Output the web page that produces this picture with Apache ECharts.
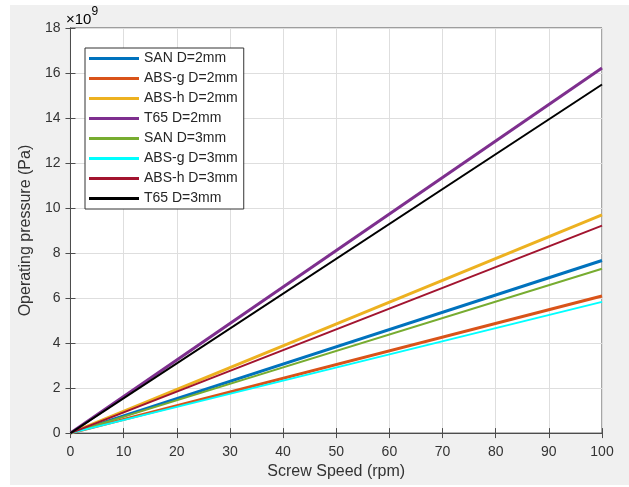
<!DOCTYPE html>
<html>
<head>
<meta charset="utf-8">
<script src="https://cdn.jsdelivr.net/npm/echarts@6/dist/echarts.min.js"></script>
<style>
  html, body { margin: 0; padding: 0; background: #fff; }
  #chart { position: absolute; left: 10px; top: 5px; width: 619px; height: 480px; background: #f0f0f0; }
</style>
</head>
<body>
<div id="chart"></div>
<script>
// screw speed (rpm), start and end of each line
var speeds = [0, 100];
var names = ['SAN D=2mm', 'ABS-g D=2mm', 'ABS-h D=2mm', 'T65 D=2mm',
             'SAN D=3mm', 'ABS-g D=3mm', 'ABS-h D=3mm', 'T65 D=3mm'];
// operating pressure at 0 and 100 rpm, in units of 1e9 Pa
var san2 = [0, 7.67];
var absg2 = [0, 6.09];
var absh2 = [0, 9.70];
var t652 = [0, 16.22];
var san3 = [0, 7.30];
var absg3 = [0, 5.83];
var absh3 = [0, 9.22];
var t653 = [0, 15.49];
var xTicks = [0, 10, 20, 30, 40, 50, 60, 70, 80, 90, 100];
var yTicks = [0, 2, 4, 6, 8, 10, 12, 14, 16, 18];

var seriesValues = [san2, absg2, absh2, t652, san3, absg3, absh3, t653];
var colors = ['#0072BD', '#D95319', '#EDB120', '#7E2F8E', '#77AC30', '#00FFFF', '#A2142F', '#000000'];
var widths = [3, 3, 3, 3, 2, 2, 2, 2];

var chart = echarts.init(document.getElementById('chart'));

var font = 'Liberation Sans, Arial, sans-serif';
var axisColor = '#4d4d4d';

var series = names.map(function (n, i) {
  return {
    name: n,
    type: 'line',
    symbol: 'none',
    data: speeds.map(function (s, k) { return [s, seriesValues[i][k]]; }),
    lineStyle: { color: colors[i], width: widths[i] },
    itemStyle: { color: colors[i] }
  };
});

var option = {
  animation: false,
  grid: {
    left: 55, top: 23, right: 27, bottom: 50,
    show: true, backgroundColor: '#fff', borderColor: axisColor, borderWidth: 1
  },
  legend: {
    orient: 'vertical',
    left: 75, top: 43,
    data: names,
    icon: 'rect',
    itemWidth: 50, itemHeight: 3, itemGap: 5,
    padding: [3, 6, 3, 4],
    backgroundColor: '#fff',
    borderColor: '#333', borderWidth: 1,
    textStyle: { fontFamily: font, fontSize: 14, color: '#262626', lineHeight: 15 }
  },
  graphic: [{
    type: 'text', left: 56, top: 1,
    style: {
      text: '{a|×10}{b|9}',
      rich: {
        a: { fontFamily: font, fontSize: 15, color: '#333', padding: [6, 0, 0, 0] },
        b: { fontFamily: font, fontSize: 12, color: '#333', verticalAlign: 'top' }
      }
    }
  }],
  xAxis: [{
    type: 'value', min: 0, max: 100, interval: 10,
    name: 'Screw Speed (rpm)', nameLocation: 'middle', nameGap: 27,
    nameTextStyle: { fontFamily: font, fontSize: 16, color: '#333' },
    axisLine: { lineStyle: { color: axisColor } },
    axisTick: { inside: true, length: 5, lineStyle: { color: axisColor } },
    axisLabel: { fontFamily: font, fontSize: 14, color: '#333', margin: 12,
      customValues: xTicks },
    splitLine: { show: true, lineStyle: { color: '#dedede' } }
  }, {
    type: 'value', min: 0, max: 100, interval: 10, position: 'top',
    axisLine: { lineStyle: { color: axisColor } },
    axisTick: { inside: true, length: 5, lineStyle: { color: axisColor } },
    axisLabel: { show: false }, splitLine: { show: false }
  }],
  yAxis: [{
    type: 'value', min: 0, max: 18, interval: 2,
    name: 'Operating pressure (Pa)', nameLocation: 'middle', nameGap: 32,
    nameTextStyle: { fontFamily: font, fontSize: 16, color: '#333' },
    axisLine: { show: true, lineStyle: { color: axisColor } },
    axisTick: { show: true, inside: true, length: 5, lineStyle: { color: axisColor } },
    axisLabel: { fontFamily: font, fontSize: 14, color: '#333', margin: 10,
      customValues: yTicks },
    splitLine: { show: true, lineStyle: { color: '#dedede' } }
  }, {
    type: 'value', min: 0, max: 18, interval: 2, position: 'right',
    axisLine: { show: true, lineStyle: { color: axisColor } },
    axisTick: { show: true, inside: true, length: 5, lineStyle: { color: axisColor } },
    axisLabel: { show: false }, splitLine: { show: false }
  }],
  series: series
};

chart.setOption(option);
</script>
</body>
</html>
